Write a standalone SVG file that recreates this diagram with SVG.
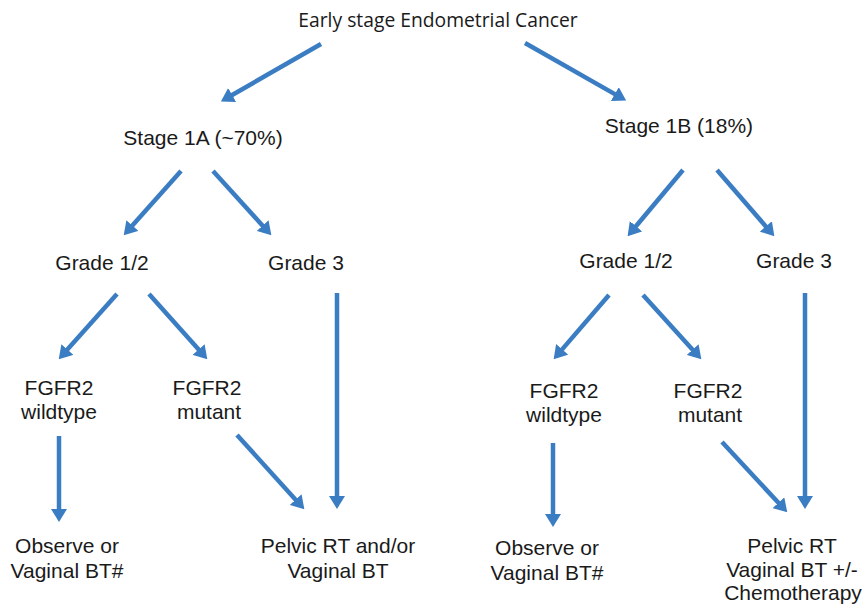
<svg xmlns="http://www.w3.org/2000/svg" width="863" height="609" viewBox="0 0 863 609">
<style>
.t{font-family:"Liberation Sans",Arial,sans-serif;font-size:21px;fill:#1a1a1a;text-anchor:middle}
.title{font-family:"Open Sans","Noto Sans",sans-serif;font-size:19.3px;fill:#1a1a1a;text-anchor:middle}
.c{stroke:#3a7dc3;stroke-width:4.5;fill:none;marker-end:url(#ah)}
</style>
<defs>
<marker id="ah" markerUnits="userSpaceOnUse" viewBox="0 -8 13 16" markerWidth="13" markerHeight="16" refX="1" refY="0" orient="auto">
<path d="M0,-8 L13,0 L0,8 z" fill="#3a7dc3"/>
</marker>
</defs>
<rect width="863" height="609" fill="#ffffff"/>
<g id="n-root"><text class="title" x="438" y="27">Early stage Endometrial Cancer</text></g>
<g id="n-1a"><text class="t" x="203" y="145">Stage 1A (~70%)</text></g>
<g id="n-1b"><text class="t" x="679" y="133">Stage 1B (18%)</text></g>
<g id="n-1a-g12"><text class="t" x="102" y="270">Grade 1/2</text></g>
<g id="n-1a-g3"><text class="t" x="306" y="270">Grade 3</text></g>
<g id="n-1b-g12"><text class="t" x="626" y="268">Grade 1/2</text></g>
<g id="n-1b-g3"><text class="t" x="794" y="268">Grade 3</text></g>
<g id="n-1a-wt"><text class="t" x="59" y="395">FGFR2</text><text class="t" x="59" y="419">wildtype</text></g>
<g id="n-1a-mut"><text class="t" x="207" y="395">FGFR2</text><text class="t" x="209" y="419">mutant</text></g>
<g id="n-1b-wt"><text class="t" x="564" y="398">FGFR2</text><text class="t" x="564" y="422">wildtype</text></g>
<g id="n-1b-mut"><text class="t" x="708" y="398">FGFR2</text><text class="t" x="710" y="422">mutant</text></g>
<g id="n-1a-obs"><text class="t" x="67" y="553">Observe or</text><text class="t" x="67" y="578">Vaginal BT#</text></g>
<g id="n-1a-rt"><text class="t" x="338" y="553">Pelvic RT and/or</text><text class="t" x="338" y="578">Vaginal BT</text></g>
<g id="n-1b-obs"><text class="t" x="547" y="555">Observe or</text><text class="t" x="547" y="580">Vaginal BT#</text></g>
<g id="n-1b-rt"><text class="t" x="792" y="553">Pelvic RT</text><text class="t" x="792" y="577">Vaginal BT +/-</text><text class="t" x="793" y="600">Chemotherapy</text></g>
<g id="connectors">
<line class="c" x1="321" y1="44" x2="231.3" y2="95.5"/>
<line class="c" x1="525" y1="43" x2="615.7" y2="94.6"/>
<line class="c" x1="181" y1="171" x2="131.7" y2="226.3"/>
<line class="c" x1="213" y1="171" x2="263.3" y2="226.4"/>
<line class="c" x1="683" y1="170" x2="635.3" y2="227"/>
<line class="c" x1="717" y1="170" x2="766.5" y2="227.2"/>
<line class="c" x1="117" y1="294" x2="66.7" y2="350.3"/>
<line class="c" x1="149" y1="294" x2="199.3" y2="350.3"/>
<line class="c" x1="609" y1="295" x2="561.5" y2="350.1"/>
<line class="c" x1="643" y1="295" x2="693.3" y2="350.4"/>
<line class="c" x1="59" y1="436" x2="59" y2="510"/>
<line class="c" x1="237" y1="435" x2="296.3" y2="500.4"/>
<line class="c" x1="337" y1="293" x2="337" y2="497"/>
<line class="c" x1="553" y1="443" x2="553" y2="515"/>
<line class="c" x1="722" y1="442" x2="779.1" y2="503.5"/>
<line class="c" x1="805" y1="293" x2="805" y2="497"/>
</g>
</svg>
